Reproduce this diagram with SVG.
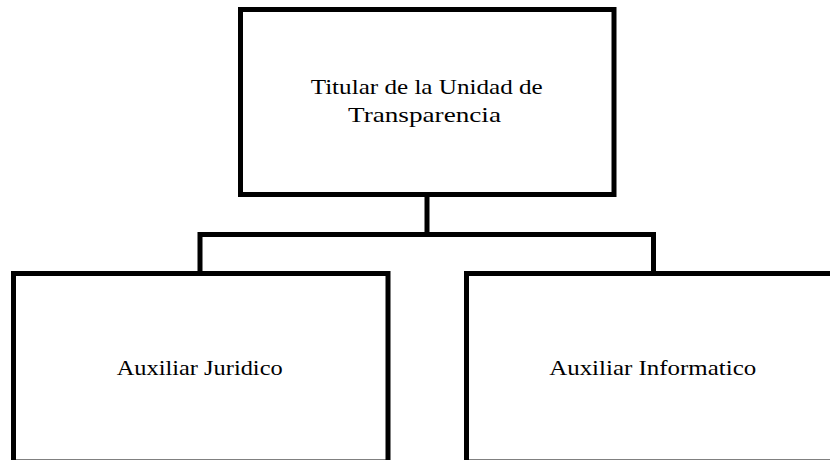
<svg xmlns="http://www.w3.org/2000/svg" width="830" height="460" viewBox="0 0 830 460">
<style>
.box{fill:#fff;stroke:#000;stroke-width:5}
.conn{fill:none;stroke:#000;stroke-width:5;stroke-linejoin:miter;stroke-linecap:butt}
.lbl{font-family:"Liberation Serif","DejaVu Serif",serif;font-size:22px;fill:#000;text-anchor:middle}
</style>
<rect width="830" height="460" fill="#fff"/>
<g id="connectors">
<path class="conn" d="M427,194.5 V234.5 M200,273.5 V234.5 H653.5 V273.5"/>
</g>
<g id="titular">
<rect class="box" x="240.5" y="9.5" width="373.5" height="185"/>
<text class="lbl" x="426.7" y="94" textLength="232" lengthAdjust="spacingAndGlyphs">Titular de la Unidad de</text>
<text class="lbl" x="424.5" y="122" textLength="153" lengthAdjust="spacingAndGlyphs">Transparencia</text>
</g>
<g id="juridico">
<rect class="box" x="13.5" y="273.5" width="374.5" height="188.5"/>
<text class="lbl" x="199.7" y="375" textLength="166" lengthAdjust="spacingAndGlyphs">Auxiliar Juridico</text>
</g>
<g id="informatico">
<rect class="box" x="466.5" y="273.5" width="374.5" height="188.5"/>
<text class="lbl" x="652.7" y="375" textLength="207" lengthAdjust="spacingAndGlyphs">Auxiliar Informatico</text>
</g>
</svg>
